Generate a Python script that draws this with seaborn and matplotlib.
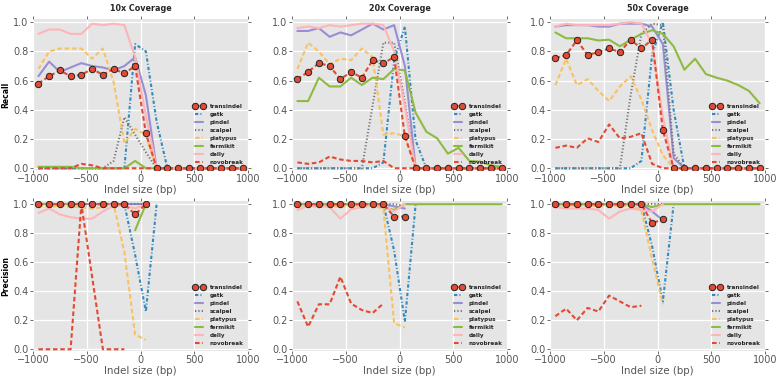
import numpy as np
import pandas as pd
import matplotlib
matplotlib.use("Agg")
import matplotlib.pyplot as plt
import seaborn as sns

nan = np.nan

# ---------------- data ----------------
sizes = [-950, -850, -750, -650, -550, -450, -350, -250, -150, -50,
         50, 150, 250, 350, 450, 550, 650, 750, 850, 950]
tools = ["transindel", "gatk", "pindel", "scalpel", "platypus", "fermikit", "delly", "novobreak"]
coverages = ["10x Coverage", "20x Coverage", "50x Coverage"]
xticks = [-1000, -500, 0, 500, 1000]
yticks = [0.0, 0.2, 0.4, 0.6, 0.8, 1.0]

recall_10x = {
    "transindel": [0.58, 0.63, 0.67, 0.63, 0.64, 0.68, 0.64, 0.68, 0.65, 0.70, 0.24, 0, 0, 0, 0, 0, 0, 0, 0, 0],
    "gatk":       [0, 0, 0, 0, 0, 0, 0, 0, 0, 0.85, 0.80, 0.32, 0, 0, 0, 0, 0, 0, 0, 0],
    "pindel":     [0.63, 0.73, 0.66, 0.69, 0.72, 0.70, 0.69, 0.67, 0.70, 0.76, 0.50, 0, 0, 0, 0, 0, 0, 0, 0, 0],
    "scalpel":    [0, 0, 0, 0, 0, 0, 0, 0.05, 0.35, 0.23, 0.11, 0, 0, 0, 0, 0, 0, 0, 0, 0],
    "platypus":   [0.68, 0.80, 0.82, 0.82, 0.82, 0.75, 0.82, 0.59, 0.17, 0.27, 0.23, 0, 0, 0, 0, 0, 0, 0, 0, 0],
    "fermikit":   [0.01, 0.01, 0.01, 0.01, 0.0, 0, 0, 0, 0, 0.05, 0, 0, 0, 0, 0, 0, 0, 0, 0, 0],
    "delly":      [0.92, 0.95, 0.95, 0.92, 0.92, 0.99, 0.98, 0.99, 0.98, 0.76, 0.36, 0, 0, 0, 0, 0, 0, 0, 0, 0],
    "novobreak":  [0, 0, 0, 0, 0.03, 0.02, 0, 0, 0, 0, 0, 0, 0, 0, 0, 0, 0, 0, 0, 0],
}
recall_20x = {
    "transindel": [0.61, 0.66, 0.72, 0.70, 0.61, 0.66, 0.62, 0.74, 0.72, 0.76, 0.22, 0, 0, 0, 0, 0, 0, 0, 0, 0],
    "gatk":       [0, 0, 0, 0, 0, 0, 0, 0, 0.04, 0.74, 0.97, 0.19, 0, 0, 0, 0, 0, 0, 0, 0],
    "pindel":     [0.94, 0.94, 0.96, 0.90, 0.93, 0.91, 0.95, 0.99, 0.95, 0.98, 0.70, 0, 0, 0, 0, 0, 0, 0, 0, 0],
    "scalpel":    [0, 0, 0, 0, 0, 0, 0, 0.43, 0.86, 0.86, 0.45, 0, 0, 0, 0, 0, 0, 0, 0, 0],
    "platypus":   [0.68, 0.86, 0.80, 0.71, 0.75, 0.74, 0.82, 0.76, 0.23, 0.24, 0.22, 0, 0, 0, 0, 0, 0, 0, 0, 0],
    "fermikit":   [0.46, 0.46, 0.62, 0.56, 0.56, 0.62, 0.57, 0.62, 0.61, 0.68, 0.67, 0.38, 0.25, 0.205, 0.10, 0.14, 0.05, 0.045, 0.02, 0.01],
    "delly":      [0.96, 0.97, 0.96, 0.98, 0.97, 0.98, 0.99, 0.99, 0.98, 0.80, 0.42, 0, 0, 0, 0, 0, 0, 0, 0, 0],
    "novobreak":  [0.04, 0.03, 0.04, 0.08, 0.06, 0.05, 0.05, 0.04, 0.05, 0, 0, 0, 0, 0, 0, 0, 0, 0, 0, 0],
}
recall_50x = {
    "transindel": [0.755, 0.775, 0.876, 0.775, 0.795, 0.82, 0.795, 0.88, 0.82, 0.88, 0.26, 0, 0, 0, 0, 0, 0, 0, 0, 0],
    "gatk":       [0, 0, 0, 0, 0, 0, 0, 0, 0.05, 0.78, 1.0, 0.40, 0, 0, 0, 0, 0, 0, 0, 0],
    "pindel":     [0.97, 0.98, 0.98, 0.98, 0.97, 0.97, 0.99, 0.99, 0.99, 0.97, 0.85, 0.07, 0, 0, 0, 0, 0, 0, 0, 0],
    "scalpel":    [0, 0, 0, 0, 0, 0, 0, 0.50, 0.92, 0.99, 0.98, 0.10, 0, 0, 0, 0, 0, 0, 0, 0],
    "platypus":   [0.57, 0.75, 0.57, 0.61, 0.53, 0.46, 0.56, 0.63, 0.47, 0.26, 0.09, 0, 0, 0, 0, 0, 0, 0, 0, 0],
    "fermikit":   [0.93, 0.89, 0.89, 0.89, 0.875, 0.88, 0.835, 0.88, 0.92, 0.945, 0.92, 0.835, 0.675, 0.75, 0.645, 0.62, 0.60, 0.57, 0.53, 0.445],
    "delly":      [0.97, 0.99, 0.98, 0.98, 0.98, 0.98, 0.99, 1.0, 0.99, 0.85, 0.35, 0, 0, 0, 0, 0, 0, 0, 0, 0],
    "novobreak":  [0.14, 0.155, 0.14, 0.205, 0.18, 0.30, 0.205, 0.215, 0.24, 0.03, 0, 0, 0, 0, 0, 0, 0, 0, 0, 0],
}

N9 = [nan] * 9
precision_10x = {
    "transindel": [1, 1, 1, 1, 1, 1, 1, 1, 1, 0.93, 1.0] + N9,
    "gatk":       [nan] * 8 + [1.0, 0.65, 0.26, 1.0] + [nan] * 8,
    "pindel":     [1] * 11 + N9,
    "scalpel":    [nan] * 7 + [1.0, 1.0, 1.0, 1.0] + N9,
    "platypus":   [0.99, 0.98, 0.99, 0.98, 0.98, 0.97, 0.98, 1.0, 0.67, 0.10, 0.065] + N9,
    "fermikit":   [1, 1, 1, 1, nan, nan, nan, nan, nan, 0.82, 1.0] + N9,
    "delly":      [0.94, 0.97, 0.93, 0.91, 0.90, 0.90, 0.95, 0.99, 0.99, 0.97, 1.0] + N9,
    "novobreak":  [0, 0, 0, 0, 1.0, 0.5, 0, 0, 0] + [nan] * 11,
}
precision_20x = {
    "transindel": [1] * 9 + [0.915, 0.915] + N9,
    "gatk":       [nan] * 8 + [1.0, 0.68, 0.19, 1.0] + [nan] * 8,
    "pindel":     [1] * 9 + [0.985, 0.97] + N9,
    "scalpel":    [nan] * 7 + [1.0, 1.0, 1.0, 0.99] + N9,
    "platypus":   [0.99, 0.99, 0.98, 0.99, 0.98, 0.99, 0.99, 0.99, 0.97, 0.18, 0.15] + N9,
    "fermikit":   [1, 1, 0.99, 1, 1, 1, 1, 1, 0.98, 0.96, 1, 1, 1, 1, 1, 1, 1, 1, 1, 1],
    "delly":      [0.96, 0.99, 0.99, 0.98, 0.90, 0.965, 0.98, 0.99, 0.99, 0.95, 1.0] + N9,
    "novobreak":  [0.33, 0.155, 0.31, 0.31, 0.50, 0.315, 0.27, 0.25, 0.315] + [nan] * 11,
}
precision_50x = {
    "transindel": [1] * 9 + [0.87, 0.895] + N9,
    "gatk":       [nan] * 8 + [1.0, 0.71, 0.33, 1.0] + [nan] * 8,
    "pindel":     [1] * 9 + [0.95, 0.89] + N9,
    "scalpel":    [nan] * 7 + [1.0, 1.0, 1.0, 1.0] + N9,
    "platypus":   [0.99, 0.99, 0.99, 0.99, 0.99, 0.99, 0.99, 0.99, 0.96, 0.62, 0.31] + N9,
    "fermikit":   [1] * 9 + [0.98] + [1] * 10,
    "delly":      [0.98, 0.97, 0.97, 0.97, 0.96, 0.90, 0.95, 0.97, 0.96, 0.95, 1.0] + N9,
    "novobreak":  [0.228, 0.28, 0.20, 0.285, 0.26, 0.37, 0.33, 0.29, 0.30] + [nan] * 11,
}

recall_panels = [recall_10x, recall_20x, recall_50x]
precision_panels = [precision_10x, precision_20x, precision_50x]

# ---------------- style ----------------
colors = {"transindel": "#E24A33", "gatk": "#348ABD", "pindel": "#988ED5", "scalpel": "#777777",
          "platypus": "#FBC15E", "fermikit": "#8EBA42", "delly": "#FFB5B8", "novobreak": "#E24A33"}
lstyles = {"transindel": (0, (2.2, 1.3)), "gatk": (0, (1.6, 1.0, 0.5, 1.0)), "pindel": "-",
           "scalpel": (0, (0.6, 1.0)), "platypus": (0, (2.2, 1.3)), "fermikit": "-",
           "delly": "-", "novobreak": (0, (2.2, 1.3))}

sns.set_theme(style="darkgrid", rc={
    "axes.facecolor": "#E5E5E5",
    "grid.color": "white",
    "grid.linewidth": 0.9,
    "axes.edgecolor": "#E5E5E5",
    "lines.dash_capstyle": "butt",
})
plt.rcParams["font.family"] = ["DejaVu Sans"]

W, H = 778, 379
fig = plt.figure(figsize=(W / 100, H / 100), dpi=100)

lefts = [33, 292, 550]
axw = 215
rows = [(19, 170), (201, 351)]


def add_ax(px_left, px_top, px_bottom):
    return fig.add_axes([px_left / W, 1 - px_bottom / H, axw / W, (px_bottom - px_top) / H])


def draw(ax, data):
    for tool in tools:
        vals = np.array(data[tool], dtype=float)
        df = pd.DataFrame({"size": sizes, "value": vals})
        valid = df["value"].notna()
        seg_id = (~valid).cumsum()
        first = True
        for _, seg in df[valid].groupby(seg_id[valid]):
            kw = dict(color=colors[tool], linestyle=lstyles[tool], linewidth=1.5)
            if tool == "transindel":
                kw.update(marker="o", markersize=4.6, markerfacecolor="#E24A33",
                          markeredgecolor="#222222", markeredgewidth=0.7, zorder=5)
            sns.lineplot(data=seg, x="size", y="value", ax=ax, estimator=None,
                         sort=False, label=tool if first else "_nolegend_", **kw)
            first = False
    ax.set_xlim(-1000, 1000)
    ax.set_ylim(-0.012, 1.022)
    ax.set_xticks(xticks)
    ax.set_yticks(yticks)
    ax.set_xticklabels([f"{t}" if t >= 0 else f"\u2212{abs(t)}" for t in xticks])
    ax.set_yticklabels([f"{t:.1f}" for t in yticks])
    ax.tick_params(axis="both", which="both", labelsize=7, colors="#555555", labelcolor="#555555",
                   direction="out", length=2, width=0.6, pad=1.2,
                   top=True, right=True, bottom=True, left=True)
    for s in ax.spines.values():
        s.set_visible(False)
    ax.grid(True, color="white", linewidth=0.9)
    ax.set_xlabel("Indel size (bp)", fontsize=7.4, color="#555555", labelpad=0.5)
    ax.set_ylabel("")
    ax.legend(loc="lower right", frameon=False, numpoints=2,
              prop={"size": 4.1, "weight": "bold"}, handlelength=2.0,
              handletextpad=0.8, labelspacing=0.55, borderaxespad=0.4)


for i in range(3):
    ax_r = add_ax(lefts[i], *rows[0])
    draw(ax_r, recall_panels[i])
    ax_r.set_title(coverages[i], fontsize=5.8, fontweight="bold", pad=6)
    ax_p = add_ax(lefts[i], *rows[1])
    draw(ax_p, precision_panels[i])
    if i == 0:
        ax_r.set_ylabel("Recall", fontsize=5.5, fontweight="bold", color="black", labelpad=2)
        ax_p.set_ylabel("Precision", fontsize=5.5, fontweight="bold", color="black", labelpad=2)

fig.savefig("out.png", dpi=100, facecolor="white")
